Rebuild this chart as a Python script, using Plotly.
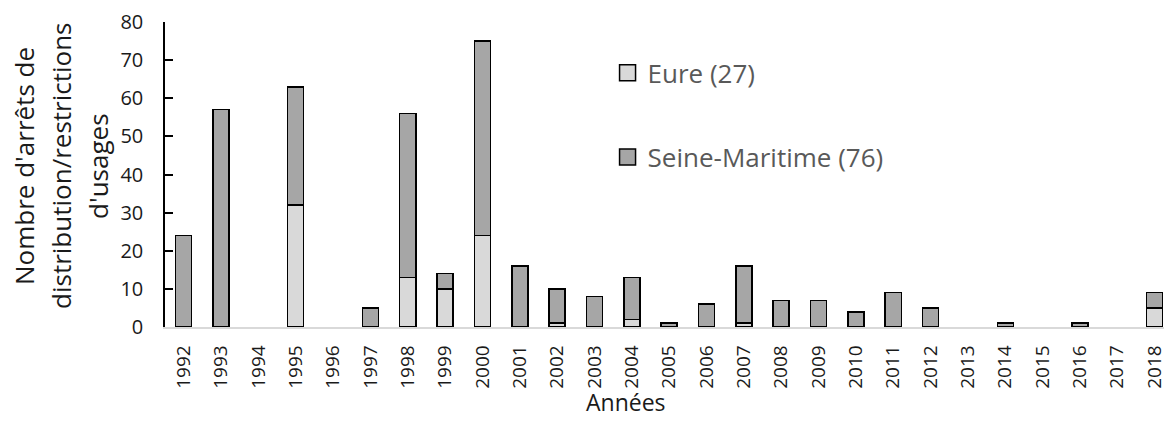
import plotly.graph_objects as go

# Années et nombre d'arrêts de distribution / restrictions d'usages par département
annees = [str(a) for a in range(1992, 2019)]
eure = [0, 0, 0, 32, 0, 0, 13, 10, 24, 0, 1, 0, 2, 0, 0, 1, 0, 0, 0, 0, 0, 0, 0, 0, 0, 0, 5]
seine_maritime = [24, 57, 0, 31, 0, 5, 43, 4, 51, 16, 9, 8, 11, 1, 6, 15, 7, 7, 4, 9, 5, 0, 1, 0, 1, 0, 4]

nom_eure = "Eure (27)"
nom_seine = "Seine-Maritime (76)"
couleur_eure = "#D9D9D9"
couleur_seine = "#A6A6A6"

titre_y = ["Nombre d'arrêts de", "distribution/restrictions", "d'usages"]
titre_x = "Années"

FONT = "Open Sans, Carlito, Calibri, sans-serif"
TEXTE = "#1a1a1a"


def sans_zeros(valeurs):
    # pas de barre dessinée pour une valeur nulle
    return [v if v else None for v in valeurs]


fig = go.Figure()

for nom, valeurs, couleur in [(nom_eure, eure, couleur_eure),
                              (nom_seine, seine_maritime, couleur_seine)]:
    fig.add_trace(go.Bar(
        x=annees, y=sans_zeros(valeurs), name=nom,
        marker=dict(color=couleur, line=dict(color="black", width=1.5)),
        width=0.43, showlegend=False,
    ))

# entrées de légende (carrés avec contour noir)
for nom, couleur, leg in [(nom_eure, couleur_eure, "legend"),
                          (nom_seine, couleur_seine, "legend2")]:
    fig.add_trace(go.Scatter(
        x=[None], y=[None], mode="markers", name=nom, legend=leg,
        marker=dict(symbol="square", size=16, color=couleur,
                    line=dict(color="black", width=1.5)),
    ))

legend_style = dict(font=dict(family=FONT, size=26, color="#595959"),
                    bgcolor="rgba(0,0,0,0)", xanchor="left", yanchor="middle")

# titre de l'axe des ordonnées sur trois lignes centrées
for i, ligne in enumerate(titre_y):
    fig.add_annotation(
        text=ligne, textangle=-90, showarrow=False,
        xref="paper", yref="paper", x=0, y=0.528,
        xanchor="center", yanchor="middle", xshift=-141 + 37 * i,
        font=dict(family=FONT, size=26, color=TEXTE),
    )

# titre de l'axe des abscisses
fig.add_annotation(
    text=titre_x, showarrow=False,
    xref="paper", yref="paper", x=0.461, y=-0.245,
    xanchor="center", yanchor="middle",
    font=dict(family=FONT, size=23, color=TEXTE),
)

fig.update_layout(
    barmode="stack",
    width=1167, height=428,
    margin=dict(l=165, r=0, t=22, b=101),
    paper_bgcolor="white", plot_bgcolor="white",
    font=dict(family=FONT, color=TEXTE),
    legend=dict(x=0.443, y=0.833, **legend_style),
    legend2=dict(x=0.443, y=0.557, **legend_style),
    xaxis=dict(
        range=[-0.5, 26.25], type="category",
        tickangle=-90, tickfont=dict(size=19, color=TEXTE),
        showline=True, linecolor="#D9D9D9", linewidth=1.5,
        ticks="", ticklabelstandoff=9, showgrid=False,
    ),
    yaxis=dict(
        range=[0, 80], dtick=10,
        tickfont=dict(size=20, color=TEXTE),
        showline=True, linecolor="black", linewidth=1.5,
        ticks="inside", ticklen=8, tickwidth=1.5, tickcolor="black",
        ticklabelstandoff=16, showgrid=False, zeroline=False,
    ),
)

fig.write_html("out.html")
